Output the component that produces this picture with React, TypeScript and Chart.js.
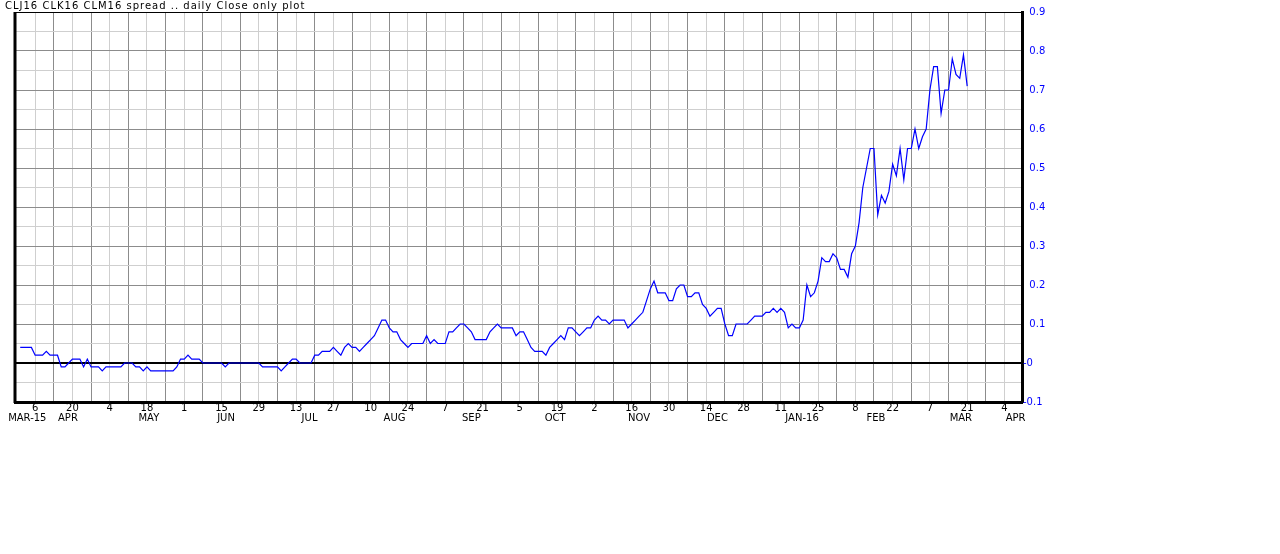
import React, { useEffect, useRef } from "react";
import { Chart, registerables } from "chart.js";

Chart.register(...registerables);

const TITLE = "CLJ16 CLK16 CLM16 spread .. daily Close only plot";

// Trading-day index: Monday 6 Apr 2015 = 0, one unit per trading day.
const START_DAY = -4;
const X_MIN = -5.4;
const X_MAX = 264.7;

// Daily close of the spread, from START_DAY onwards.
const spread = [
  0.04, 0.04, 0.04, 0.04,
  0.02, 0.02, 0.02, 0.03, 0.02,
  0.02, 0.02, -0.01, -0.01, 0.0,
  0.01, 0.01, 0.01, -0.01, 0.01,
  -0.01, -0.01, -0.01, -0.02, -0.01,
  -0.01, -0.01, -0.01, -0.01, 0.0,
  0.0, 0.0, -0.01, -0.01, -0.02,
  -0.01, -0.02, -0.02, -0.02, -0.02,
  -0.02, -0.02, -0.02, -0.01, 0.01,
  0.01, 0.02, 0.01, 0.01, 0.01,
  0.0, 0.0, 0.0, 0.0, 0.0,
  0.0, -0.01, 0.0, 0.0, 0.0,
  0.0, 0.0, 0.0, 0.0, 0.0,
  0.0, -0.01, -0.01, -0.01, -0.01,
  -0.01, -0.02, -0.01, 0.0, 0.01,
  0.01, 0.0, 0.0, 0.0, 0.0,
  0.02, 0.02, 0.03, 0.03, 0.03,
  0.04, 0.03, 0.02, 0.04, 0.05,
  0.04, 0.04, 0.03, 0.04, 0.05,
  0.06, 0.07, 0.09, 0.11, 0.11,
  0.09, 0.08, 0.08, 0.06, 0.05,
  0.04, 0.05, 0.05, 0.05, 0.05,
  0.07, 0.05, 0.06, 0.05, 0.05,
  0.05, 0.08, 0.08, 0.09, 0.1,
  0.1, 0.09, 0.08, 0.06, 0.06,
  0.06, 0.06, 0.08, 0.09, 0.1,
  0.09, 0.09, 0.09, 0.09, 0.07,
  0.08, 0.08, 0.06, 0.04, 0.03,
  0.03, 0.03, 0.02, 0.04, 0.05,
  0.06, 0.07, 0.06, 0.09, 0.09,
  0.08, 0.07, 0.08, 0.09, 0.09,
  0.11, 0.12, 0.11, 0.11, 0.1,
  0.11, 0.11, 0.11, 0.11, 0.09,
  0.1, 0.11, 0.12, 0.13, 0.16,
  0.19, 0.21, 0.18, 0.18, 0.18,
  0.16, 0.16, 0.19, 0.2, 0.2,
  0.17, 0.17, 0.18, 0.18, 0.15,
  0.14, 0.12, 0.13, 0.14, 0.14,
  0.1, 0.07, 0.07, 0.1, 0.1,
  0.1, 0.1, 0.11, 0.12, 0.12,
  0.12, 0.13, 0.13, 0.14, 0.13,
  0.14, 0.13, 0.09, 0.1, 0.09,
  0.09, 0.11, 0.2, 0.17, 0.18,
  0.21, 0.27, 0.26, 0.26, 0.28,
  0.27, 0.24, 0.24, 0.22, 0.28,
  0.3, 0.36, 0.45, 0.5, 0.55,
  0.55, 0.38, 0.43, 0.41, 0.44,
  0.51, 0.48, 0.55, 0.47, 0.55,
  0.55, 0.6, 0.55, 0.58, 0.6,
  0.7, 0.76, 0.76, 0.64, 0.7,
  0.7, 0.78, 0.74, 0.73, 0.79,
  0.71,
];

// Day-of-month labels on every other weekly gridline (6 Apr 2015 .. 4 Apr 2016).
const dayLabels = [
  "6", "20", "4", "18", "1", "15", "29", "13", "27", "10", "24", "7", "21",
  "5", "19", "2", "16", "30", "14", "28", "11", "25", "8", "22", "7", "21", "4",
];

// Month captions and where they sit (trading-day index).
const monthLabels = [
  "MAR-15", "APR", "MAY", "JUN", "JUL", "AUG", "SEP", "OCT", "NOV", "DEC",
  "JAN-16", "FEB", "MAR", "APR",
];
const monthPositions = [-2.1, 8.8, 30.5, 51.2, 73.6, 96.4, 117, 139.5, 162, 183, 205.7, 225.5, 248.3, 263];

// Y axis
const yMajor = [-0.1, 0, 0.1, 0.2, 0.3, 0.4, 0.5, 0.6, 0.7, 0.8, 0.9];
const yMajorLabels = ["-0.1", "-0", "0.1", "0.2", "0.3", "0.4", "0.5", "0.6", "0.7", "0.8", "0.9"];

const DAYS_PER_WEEK = 5;
const FONT = "'DejaVu Sans', sans-serif";

const weekTicks: number[] = [];
for (let k = 0; k < dayLabels.length * 2 - 1; k++) weekTicks.push(k * DAYS_PER_WEEK);

const yTicks: number[] = [];
yMajor.forEach((v, i) => {
  yTicks.push(v);
  if (i < yMajor.length - 1) yTicks.push((v + yMajor[i + 1]) / 2);
});

const DARK = "#8c8c8c";
const LIGHT = "#cfcfcf";

const framePlugin = {
  id: "frame",
  afterDraw(chart: any) {
    const { ctx, chartArea } = chart;
    ctx.save();
    ctx.strokeStyle = "#000";
    ctx.lineWidth = 1;
    ctx.beginPath();
    ctx.moveTo(chartArea.left, chartArea.top + 0.5);
    ctx.lineTo(chartArea.right, chartArea.top + 0.5);
    ctx.stroke();
    ctx.lineWidth = 3;
    ctx.beginPath();
    ctx.moveTo(chartArea.left, chartArea.top);
    ctx.lineTo(chartArea.left, chartArea.bottom + 1);
    ctx.stroke();
    ctx.restore();
  },
};

export default function App() {
  const ref = useRef<HTMLCanvasElement | null>(null);

  useEffect(() => {
    if (!ref.current) return;
    const chart = new Chart(ref.current, {
      type: "line",
      data: {
        datasets: [
          {
            label: "spread",
            data: spread.map((v, i) => ({ x: START_DAY + i, y: v })),
            borderColor: "#0000ff",
            borderWidth: 1.2,
            pointRadius: 0,
            tension: 0,
            fill: false,
          },
        ],
      },
      options: {
        animation: false,
        responsive: false,
        devicePixelRatio: 1,
        layout: { padding: { left: 15, top: 12, right: 218, bottom: 130 } },
        plugins: { legend: { display: false }, tooltip: { enabled: false }, title: { display: false } },
        scales: {
          x: {
            type: "linear",
            position: "bottom",
            weight: 0,
            min: X_MIN,
            max: X_MAX,
            afterBuildTicks: (s: any) => {
              s.ticks = weekTicks.map((v) => ({ value: v }));
            },
            afterFit: (s: any) => {
              s.height = 11;
              s.paddingLeft = 0;
              s.paddingRight = 0;
            },
            grid: {
              drawTicks: false,
              color: (c: any) => (Math.round(c.tick.value / DAYS_PER_WEEK) % 2 === 1 ? DARK : LIGHT),
              lineWidth: 1,
            },
            border: { display: true, color: "#000", width: 3 },
            ticks: {
              autoSkip: false,
              maxRotation: 0,
              minRotation: 0,
              padding: 1,
              color: "#000",
              font: { family: FONT, size: 10, lineHeight: 1 },
              callback: (_v: any, i: number) => (i % 2 === 0 ? dayLabels[i / 2] : ""),
            },
          },
          xm: {
            type: "linear",
            position: "bottom",
            weight: 1,
            min: X_MIN,
            max: X_MAX,
            afterBuildTicks: (s: any) => {
              s.ticks = monthPositions.map((v) => ({ value: v }));
            },
            afterFit: (s: any) => {
              s.height = 11;
              s.paddingLeft = 0;
              s.paddingRight = 0;
            },
            grid: { display: false, drawTicks: false },
            border: { display: false },
            ticks: {
              autoSkip: false,
              maxRotation: 0,
              minRotation: 0,
              padding: 0,
              color: "#000",
              font: { family: FONT, size: 10, lineHeight: 1 },
              callback: (_v: any, i: number) => monthLabels[i],
            },
          },
          y: {
            type: "linear",
            position: "right",
            min: -0.1,
            max: 0.9,
            afterBuildTicks: (s: any) => {
              s.ticks = yTicks.map((v) => ({ value: v }));
            },
            afterFit: (s: any) => {
              s.width = 40;
            },
            grid: {
              drawTicks: false,
              color: (c: any) => {
                const h = Math.round(c.tick.value * 100);
                if (h === 0) return "#000";
                return h % 10 === 0 ? DARK : LIGHT;
              },
              lineWidth: (c: any) => (Math.round(c.tick.value * 100) === 0 ? 2 : 1),
            },
            border: { display: true, color: "#000", width: 3 },
            ticks: {
              autoSkip: false,
              padding: 1,
              color: "#0000ff",
              font: { family: FONT, size: 10 },
              callback: (v: any) => {
                const h = Math.round(Number(v) * 100);
                if (h % 10 !== 0) return "";
                const idx = yMajor.findIndex((m) => Math.round(m * 100) === h);
                const t = yMajorLabels[idx];
                return t.startsWith("-") ? t : "  " + t;
              },
            },
          },
        },
      },
      plugins: [framePlugin],
    } as any);
    return () => chart.destroy();
  }, []);

  return (
    <div style={{ position: "absolute", left: 0, top: 0, width: 1280, height: 554, background: "#fff" }}>
      <canvas ref={ref} width={1280} height={554} style={{ display: "block" }} />
      <div
        style={{
          position: "absolute",
          left: 5,
          top: 0,
          font: `10px ${FONT}`,
          letterSpacing: "1px",
          lineHeight: "11px",
          color: "#000",
          whiteSpace: "nowrap",
        }}
      >
        {TITLE}
      </div>
    </div>
  );
}
